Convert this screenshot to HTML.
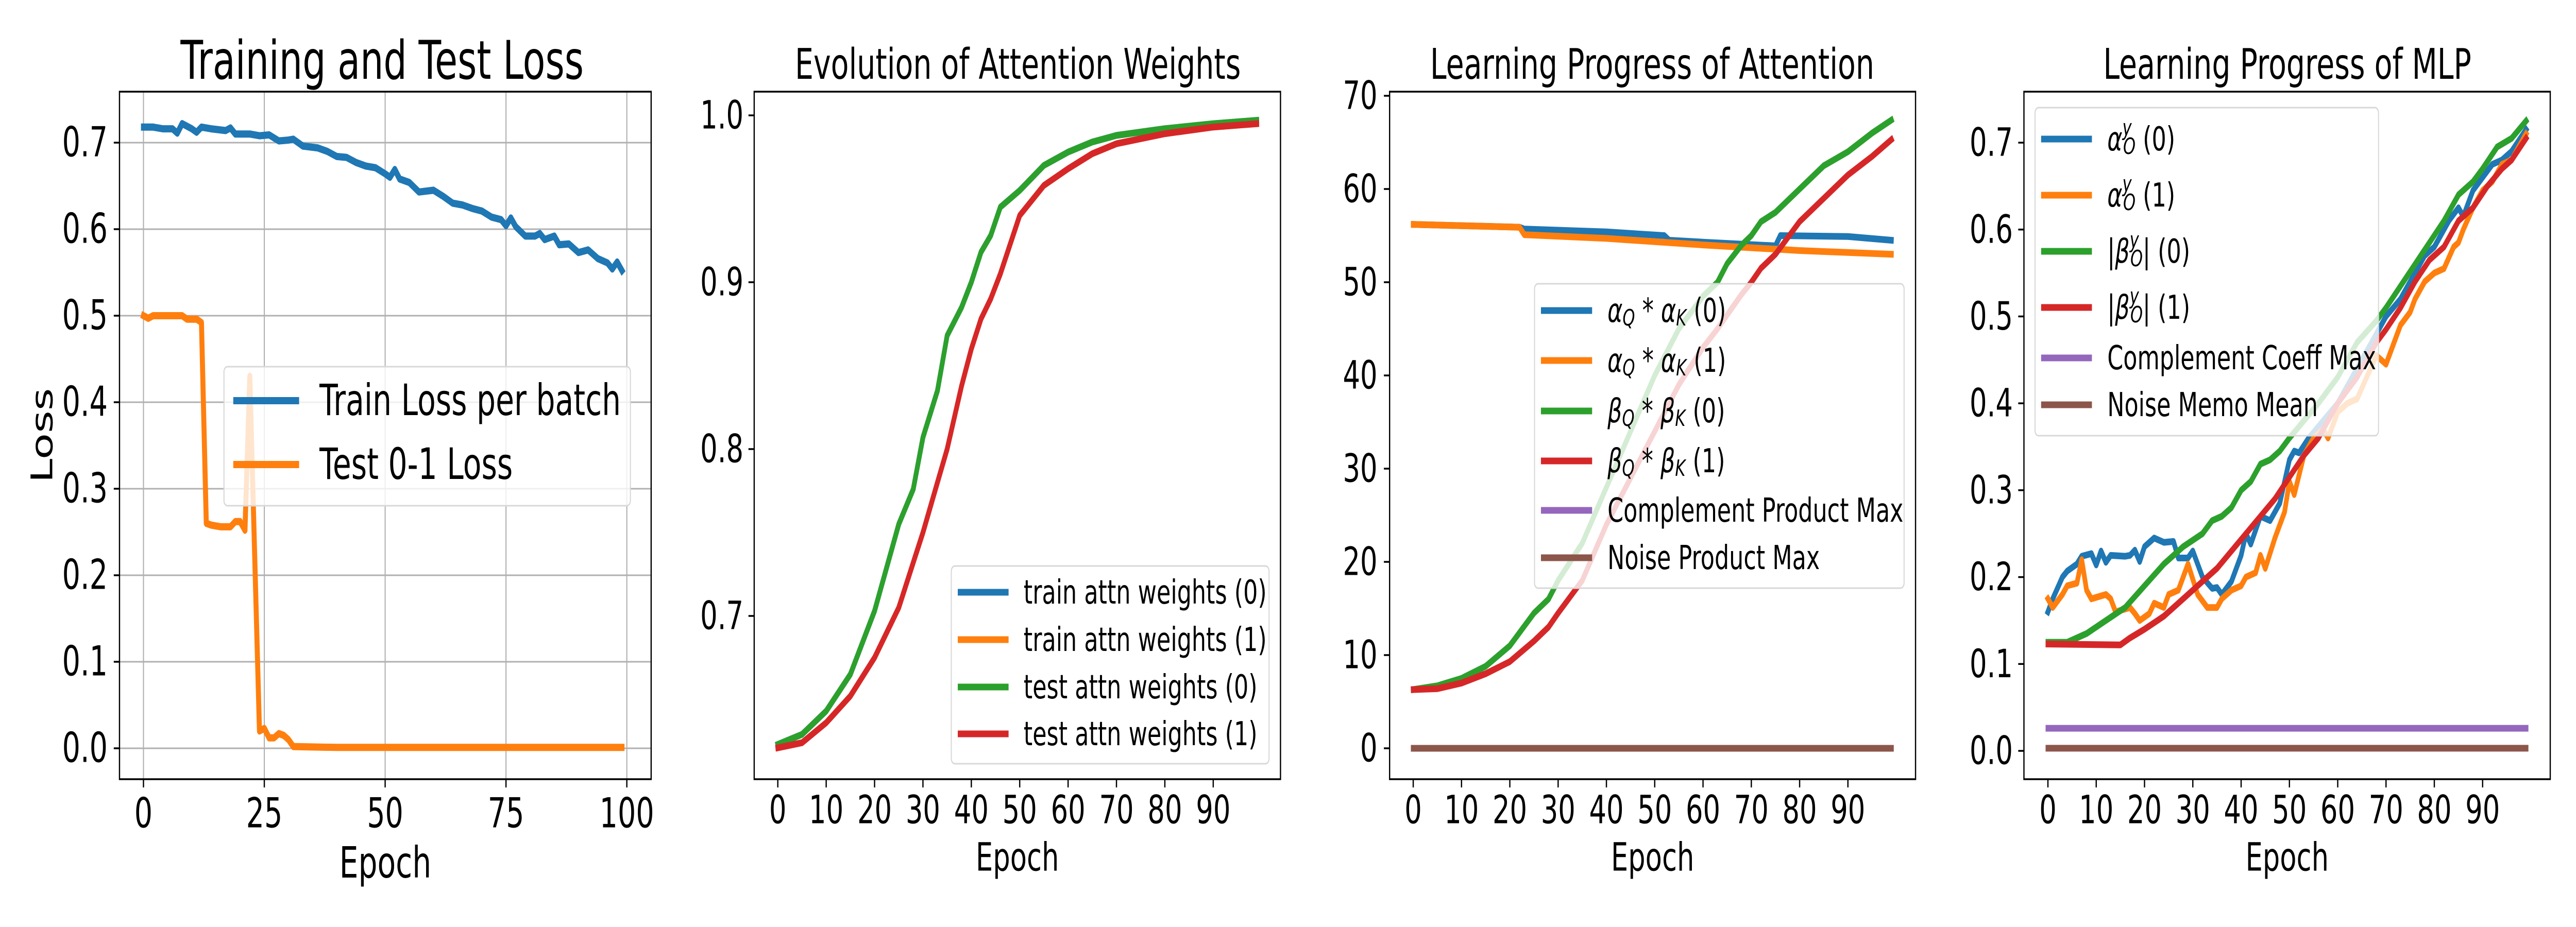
<!DOCTYPE html>
<html><head><meta charset="utf-8">
<style>
html,body{margin:0;padding:0;background:#fff;width:100%;height:100%;overflow:hidden;}
svg{display:block;position:absolute;left:0;top:0;width:100vw;height:100vh;font-family:"DejaVu Sans","Liberation Sans",sans-serif;}
</style></head>
<body>
<svg id="fig" viewBox="0 0 7200 1800" preserveAspectRatio="none" xmlns="http://www.w3.org/2000/svg"></svg>
<script>
// ---------- Panel 1 data ----------
const p1TrainEpochs=[0,2,4,6,7,8,10,11,12,14,17,18,19,22,24,26,28,30,31,33,36,38,40,42,44,46,48,50,51,52,53,55,57,60,62,64,66,68,70,72,74,75,76,77,79,81,82,83,85,86,88,90,92,94,96,97,98,99];
const p1TrainLoss=[0.718,0.718,0.716,0.716,0.711,0.722,0.716,0.712,0.718,0.716,0.714,0.717,0.710,0.710,0.708,0.709,0.702,0.703,0.704,0.696,0.694,0.690,0.684,0.683,0.677,0.673,0.671,0.664,0.660,0.669,0.658,0.654,0.643,0.645,0.638,0.630,0.628,0.624,0.621,0.614,0.611,0.604,0.613,0.603,0.592,0.592,0.595,0.588,0.592,0.582,0.583,0.573,0.576,0.566,0.561,0.554,0.562,0.552];
const p1TestEpochs=[0,1,2,8,9,11,12,13,14,16,18,19,20,21,22,24,25,26,27,28,29,30,31,40,60,80,99];
const p1TestLoss=[0.5,0.497,0.5,0.5,0.496,0.496,0.492,0.26,0.258,0.256,0.256,0.262,0.262,0.252,0.43,0.02,0.023,0.012,0.012,0.017,0.015,0.01,0.002,0.001,0.001,0.001,0.001];
const p1XTicks=[0,25,50,75,100];
const p1YTicks=[0.0,0.1,0.2,0.3,0.4,0.5,0.6,0.7];
// ---------- Panel 2 data ----------
const p2Epochs=[0,5,10,15,20,25,28,30,33,35,38,40,42,44,46,50,55,60,65,70,80,90,99];
const p2Train0=[0.623,0.629,0.643,0.665,0.703,0.755,0.776,0.807,0.835,0.868,0.885,0.900,0.918,0.928,0.945,0.955,0.970,0.978,0.984,0.988,0.992,0.995,0.997];
const p2Train1=[0.621,0.624,0.636,0.652,0.675,0.705,0.732,0.750,0.780,0.800,0.838,0.860,0.878,0.890,0.905,0.940,0.958,0.968,0.977,0.983,0.989,0.993,0.995];
const p2Test0=[0.623,0.629,0.643,0.665,0.703,0.755,0.776,0.807,0.835,0.868,0.885,0.900,0.918,0.928,0.945,0.955,0.970,0.978,0.984,0.988,0.992,0.995,0.997];
const p2Test1=[0.621,0.624,0.636,0.652,0.675,0.705,0.732,0.750,0.780,0.800,0.838,0.860,0.878,0.890,0.905,0.940,0.958,0.968,0.977,0.983,0.989,0.993,0.995];
const p2XTicks=[0,10,20,30,40,50,60,70,80,90];
const p2YTicks=[0.7,0.8,0.9,1.0];
// ---------- Panel 3 data ----------
const p3AlphaEpochs0=[0,15,22,23,40,52,53,60,75,76,90,99];
const p3Alpha0=[56.2,56.0,55.9,55.7,55.4,55.0,54.5,54.3,53.9,55.0,54.9,54.5];
const p3AlphaEpochs1=[0,22,23,40,60,80,99];
const p3Alpha1=[56.2,55.9,55.1,54.7,54.0,53.4,53.0];
const p3BetaEpochs=[0,5,10,15,20,25,28,30,35,40,45,50,55,60,63,65,68,70,72,75,80,85,90,95,99];
const p3Beta0=[6.3,6.7,7.5,8.8,11,14.5,16,18,22,28,34,40,45,48.5,50,52,54,55,56.5,57.5,60,62.5,64,66,67.4];
const p3Beta1=[6.3,6.4,7,8,9.3,11.5,13,14.5,18,24,29,34,39,43,45,46.5,48.7,50,51.5,53,56.5,59,61.5,63.5,65.3];
const p3FlatEpochs=[0,99];
const p3Complement=[0,0];
const p3Noise=[0,0];
const p3XTicks=[0,10,20,30,40,50,60,70,80,90];
const p3YTicks=[0,10,20,30,40,50,60,70];
// ---------- Panel 4 data ----------
const p4BlueEpochs=[0,1,3,4,6,7,9,10,11,12,13,16,17,18,19,20,22,24,26,27,29,30,32,34,35,36,38,40,41,42,44,46,48,49,50,51,52,54,57,60,63,66,68,70,73,75,78,80,83,85,86,88,90,92,94,96,99];
const p4Alpha0=[0.16,0.175,0.2,0.207,0.215,0.224,0.227,0.214,0.23,0.217,0.225,0.224,0.225,0.231,0.218,0.235,0.245,0.24,0.241,0.222,0.222,0.23,0.2,0.187,0.188,0.18,0.195,0.225,0.25,0.238,0.27,0.265,0.285,0.31,0.335,0.345,0.343,0.36,0.38,0.4,0.43,0.46,0.48,0.5,0.52,0.54,0.57,0.58,0.61,0.625,0.615,0.645,0.66,0.675,0.68,0.69,0.715];
const p4OrangeEpochs=[0,1,3,4,6,7,8,9,12,13,14,17,18,19,21,22,24,25,27,29,31,33,35,36,38,40,41,43,44,45,47,49,50,51,53,55,57,58,60,62,64,66,68,70,71,73,75,76,78,80,82,84,85,86,88,90,92,94,96,99];
const p4Alpha1=[0.175,0.165,0.18,0.19,0.193,0.22,0.185,0.175,0.18,0.175,0.16,0.165,0.158,0.15,0.158,0.17,0.165,0.18,0.185,0.215,0.18,0.165,0.165,0.175,0.185,0.19,0.2,0.205,0.225,0.21,0.245,0.275,0.31,0.295,0.34,0.36,0.37,0.36,0.39,0.4,0.405,0.43,0.455,0.445,0.46,0.49,0.505,0.52,0.54,0.55,0.555,0.58,0.585,0.6,0.625,0.645,0.655,0.675,0.68,0.71];
const p4GreenEpochs=[0,4,8,12,16,20,24,28,32,34,36,38,40,42,44,46,48,50,53,56,60,64,68,70,73,76,79,82,85,88,90,93,96,99];
const p4Beta0=[0.125,0.125,0.135,0.15,0.165,0.19,0.215,0.235,0.25,0.265,0.27,0.28,0.3,0.31,0.33,0.335,0.345,0.36,0.38,0.4,0.43,0.47,0.495,0.51,0.535,0.56,0.585,0.61,0.64,0.655,0.67,0.695,0.705,0.725];
const p4RedEpochs=[0,15,17,20,24,28,32,35,38,41,44,47,50,53,56,60,64,68,70,73,76,79,82,85,88,91,94,96,99];
const p4Beta1=[0.123,0.122,0.13,0.14,0.155,0.175,0.195,0.21,0.23,0.25,0.27,0.29,0.315,0.34,0.36,0.4,0.43,0.47,0.485,0.51,0.54,0.565,0.58,0.61,0.625,0.65,0.67,0.68,0.705];
const p4FlatEpochs=[0,99];
const p4Complement=[0.026,0.026];
const p4Noise=[0.003,0.003];
const p4XTicks=[0,10,20,30,40,50,60,70,80,90];
const p4YTicks=[0.0,0.1,0.2,0.3,0.4,0.5,0.6,0.7];

const NS="http://www.w3.org/2000/svg";
const fig=document.getElementById('fig');
const C={blue:'#1f77b4',orange:'#ff7f0e',green:'#2ca02c',red:'#d62728',purple:'#9467bd',brown:'#8c564b'};
function mk(tag,attrs,parent){const e=document.createElementNS(NS,tag);for(const k in attrs)e.setAttribute(k,attrs[k]);(parent||fig).appendChild(e);return e;}
function scale(d0,d1,r0,r1){return v=>r0+(v-d0)/(d1-d0)*(r1-r0);}

function panel(cfg){
  const g=mk('g',{});
  
  
  const X=scale(cfg.xd[0],cfg.xd[1],cfg.xr[0],cfg.xr[1]);
  const Y=scale(cfg.yd[0],cfg.yd[1],cfg.yr[0],cfg.yr[1]);
  const L=cfg.box[0],R=cfg.box[1],T=cfg.box[2],B=cfg.box[3];
  if(cfg.grid){
    cfg.xTicks.forEach(t=>{const l=mk('line',{x1:X(t),x2:X(t),y1:T,y2:B,stroke:'#b0b0b0','stroke-width':3},g);});
    cfg.yTicks.forEach(t=>{const l=mk('line',{x1:L,x2:R,y1:Y(t),y2:Y(t),stroke:'#b0b0b0','stroke-width':3},g);});
  }
  cfg.series.forEach(s=>{
    const pts=s.x.map((xv,i)=>X(xv).toFixed(1)+','+Y(s.y[i]).toFixed(1)).join(' ');
    const p=mk('polyline',{points:pts,fill:'none',stroke:s.color,'stroke-width':cfg.lw,'stroke-linejoin':'round','stroke-linecap':'square'},g);
    
    
  });
  const fr=mk('rect',{x:L,y:T,width:R-L,height:B-T,fill:'none',stroke:'#000','stroke-width':3.5},g);
  
  
  cfg.xTicks.forEach(t=>{
    mk('line',{x1:X(t),x2:X(t),y1:B,y2:B+16,stroke:'#000','stroke-width':3.5},g);
    const tx=mk('text',{x:X(t),y:cfg.xLabY,'font-size':cfg.tfs,'text-anchor':'middle','dominant-baseline':'central'},g);
    tx.textContent=String(t);
    
    
  });
  cfg.yTicks.forEach(t=>{
    mk('line',{x1:L-16,x2:L,y1:Y(t),y2:Y(t),stroke:'#000','stroke-width':3.5},g);
    const tx=mk('text',{x:cfg.yLabX,y:Y(t),'font-size':cfg.tfs,'text-anchor':'end','dominant-baseline':'central'},g);
    tx.textContent=cfg.yFmt(t);
    
    
  });
  const ti=mk('text',{x:cfg.titleX,y:cfg.titleY,'font-size':cfg.titleFs,'text-anchor':'middle'},g);
  ti.textContent=cfg.title;
  
  
  const xl=mk('text',{x:(L+R)/2,y:cfg.xTitleY,'font-size':cfg.lfs,'text-anchor':'middle','dominant-baseline':'central'},g);
  xl.textContent='Epoch';
  
  
  if(cfg.yTitle){
    const yl=mk('text',{x:0,y:0,'font-size':cfg.lfs,'text-anchor':'middle','dominant-baseline':'central',transform:`translate(${cfg.yTitleX},${(T+B)/2}) rotate(-90)`},g);
    yl.textContent=cfg.yTitle;
    
    
  }
  const lg=cfg.legend;
  const lgG=mk('g',{},g);
  
  
  mk('rect',{x:lg.box[0],y:lg.box[1],width:lg.box[2]-lg.box[0],height:lg.box[3]-lg.box[1],rx:10,fill:'#fff','fill-opacity':0.8,stroke:'#d8d8d8','stroke-width':3},lgG);
  lg.items.forEach((it,i)=>{
    const y=lg.rows[i];
    const ent=mk('g',{},lgG);
    
    
    mk('line',{x1:lg.hx[0],x2:lg.hx[1],y1:y,y2:y,stroke:it.color,'stroke-width':cfg.lw},ent);
    const t=mk('text',{x:lg.tx,y:y,'font-size':lg.fs,'dominant-baseline':'central'},ent);
    t.innerHTML=it.label;
  });
}

panel({name:'training-test-loss-chart',xd:[0,100],xr:[401,1752],yd:[0,0.7],yr:[1453,277],box:[334,1820,178,1513],grid:true,lw:14,
  xTicks:p1XTicks,yTicks:p1YTicks,yFmt:v=>v.toFixed(1),tfs:80,xLabY:1580,yLabX:301,
  title:'Training and Test Loss',titleX:1068,titleY:153,titleFs:103,xTitleY:1676,lfs:84,yTitle:'Loss',yTitleX:118,
  series:[{id:'train-loss-line',x:p1TrainEpochs,y:p1TrainLoss,color:C.blue},{id:'test-loss-line',x:p1TestEpochs,y:p1TestLoss,color:C.orange}],
  legend:{box:[626,712,1762,982],hx:[652,836],tx:893,rows:[778,902],fs:84,items:[{label:'Train Loss per batch',color:C.blue},{label:'Test 0-1 Loss',color:C.orange}]}});

panel({name:'attention-weights-chart',xd:[0,90],xr:[2174,3391],yd:[0.7,1.0],yr:[1196,224],box:[2108,3579,178,1513],grid:false,lw:13,
  xTicks:p2XTicks,yTicks:p2YTicks,yFmt:v=>v.toFixed(1),tfs:76,xLabY:1573,yLabX:2078,
  title:'Evolution of Attention Weights',titleX:2845,titleY:153,titleFs:82,xTitleY:1665,lfs:76,
  series:[{id:'train-attn-0-line',x:p2Epochs,y:p2Train0,color:C.blue},{id:'train-attn-1-line',x:p2Epochs,y:p2Train1,color:C.orange},{id:'test-attn-0-line',x:p2Epochs,y:p2Test0,color:C.green},{id:'test-attn-1-line',x:p2Epochs,y:p2Test1,color:C.red}],
  legend:{box:[2659,1099,3547,1483],hx:[2677,2819],tx:2861,rows:[1150,1242,1334,1425],fs:64,items:[{label:'train attn weights (0)',color:C.blue},{label:'train attn weights (1)',color:C.orange},{label:'test attn weights (0)',color:C.green},{label:'test attn weights (1)',color:C.red}]}});

panel({name:'attention-progress-chart',xd:[0,90],xr:[3950,5165],yd:[0,70],yr:[1453,186],box:[3884,5354,178,1513],grid:false,lw:13,
  xTicks:p3XTicks,yTicks:p3YTicks,yFmt:v=>String(v),tfs:76,xLabY:1573,yLabX:3850,
  title:'Learning Progress of Attention',titleX:4618,titleY:153,titleFs:82,xTitleY:1665,lfs:76,
  series:[{id:'alpha-qk-0-line',x:p3AlphaEpochs0,y:p3Alpha0,color:C.blue},{id:'alpha-qk-1-line',x:p3AlphaEpochs1,y:p3Alpha1,color:C.orange},{id:'beta-qk-0-line',x:p3BetaEpochs,y:p3Beta0,color:C.green},{id:'beta-qk-1-line',x:p3BetaEpochs,y:p3Beta1,color:C.red},{id:'complement-product-line',x:p3FlatEpochs,y:p3Complement,color:C.purple},{id:'noise-product-line',x:p3FlatEpochs,y:p3Noise,color:C.brown}],
  legend:{box:[4289,551,5322,1142],hx:[4307,4450],tx:4493,rows:[603,700,798,895,991,1083],fs:64,items:[
    {label:'<tspan font-style="italic">α</tspan><tspan font-style="italic" font-size="44" dy="14">Q</tspan><tspan dy="-14"> * </tspan><tspan font-style="italic">α</tspan><tspan font-style="italic" font-size="44" dy="14">K</tspan><tspan dy="-14"> (0)</tspan>',color:C.blue},
    {label:'<tspan font-style="italic">α</tspan><tspan font-style="italic" font-size="44" dy="14">Q</tspan><tspan dy="-14"> * </tspan><tspan font-style="italic">α</tspan><tspan font-style="italic" font-size="44" dy="14">K</tspan><tspan dy="-14"> (1)</tspan>',color:C.orange},
    {label:'<tspan font-style="italic">β</tspan><tspan font-style="italic" font-size="44" dy="14">Q</tspan><tspan dy="-14"> * </tspan><tspan font-style="italic">β</tspan><tspan font-style="italic" font-size="44" dy="14">K</tspan><tspan dy="-14"> (0)</tspan>',color:C.green},
    {label:'<tspan font-style="italic">β</tspan><tspan font-style="italic" font-size="44" dy="14">Q</tspan><tspan dy="-14"> * </tspan><tspan font-style="italic">β</tspan><tspan font-style="italic" font-size="44" dy="14">K</tspan><tspan dy="-14"> (1)</tspan>',color:C.red},
    {label:'Complement Product Max',color:C.purple},{label:'Noise Product Max',color:C.brown}]}});

panel({name:'mlp-progress-chart',xd:[0,90],xr:[5724,6939],yd:[0,0.7],yr:[1458,277],box:[5657,7128,178,1513],grid:false,lw:13,
  xTicks:p4XTicks,yTicks:p4YTicks,yFmt:v=>v.toFixed(1),tfs:76,xLabY:1573,yLabX:5626,
  title:'Learning Progress of MLP',titleX:6393,titleY:153,titleFs:82,xTitleY:1665,lfs:76,
  series:[{id:'alpha-o-0-line',x:p4BlueEpochs,y:p4Alpha0,color:C.blue},{id:'alpha-o-1-line',x:p4OrangeEpochs,y:p4Alpha1,color:C.orange},{id:'beta-o-0-line',x:p4GreenEpochs,y:p4Beta0,color:C.green},{id:'beta-o-1-line',x:p4RedEpochs,y:p4Beta1,color:C.red},{id:'complement-coeff-line',x:p4FlatEpochs,y:p4Complement,color:C.purple},{id:'noise-memo-line',x:p4FlatEpochs,y:p4Noise,color:C.brown}],
  legend:{box:[5688,209,6648,846],hx:[5705,5847],tx:5890,rows:[270,379,488,597,695,786],fs:64,items:[
    {label:'<tspan font-style="italic">α</tspan><tspan font-style="italic" font-size="44" dy="-22">y</tspan><tspan font-style="italic" font-size="44" dx="-24" dy="36">O</tspan><tspan dy="-14"> (0)</tspan>',color:C.blue},
    {label:'<tspan font-style="italic">α</tspan><tspan font-style="italic" font-size="44" dy="-22">y</tspan><tspan font-style="italic" font-size="44" dx="-24" dy="36">O</tspan><tspan dy="-14"> (1)</tspan>',color:C.orange},
    {label:'|<tspan font-style="italic">β</tspan><tspan font-style="italic" font-size="44" dy="-22">y</tspan><tspan font-style="italic" font-size="44" dx="-24" dy="36">O</tspan><tspan dy="-14">| (0)</tspan>',color:C.green},
    {label:'|<tspan font-style="italic">β</tspan><tspan font-style="italic" font-size="44" dy="-22">y</tspan><tspan font-style="italic" font-size="44" dx="-24" dy="36">O</tspan><tspan dy="-14">| (1)</tspan>',color:C.red},
    {label:'Complement Coeff Max',color:C.purple},{label:'Noise Memo Mean',color:C.brown}]}});
</script>
</body></html>
